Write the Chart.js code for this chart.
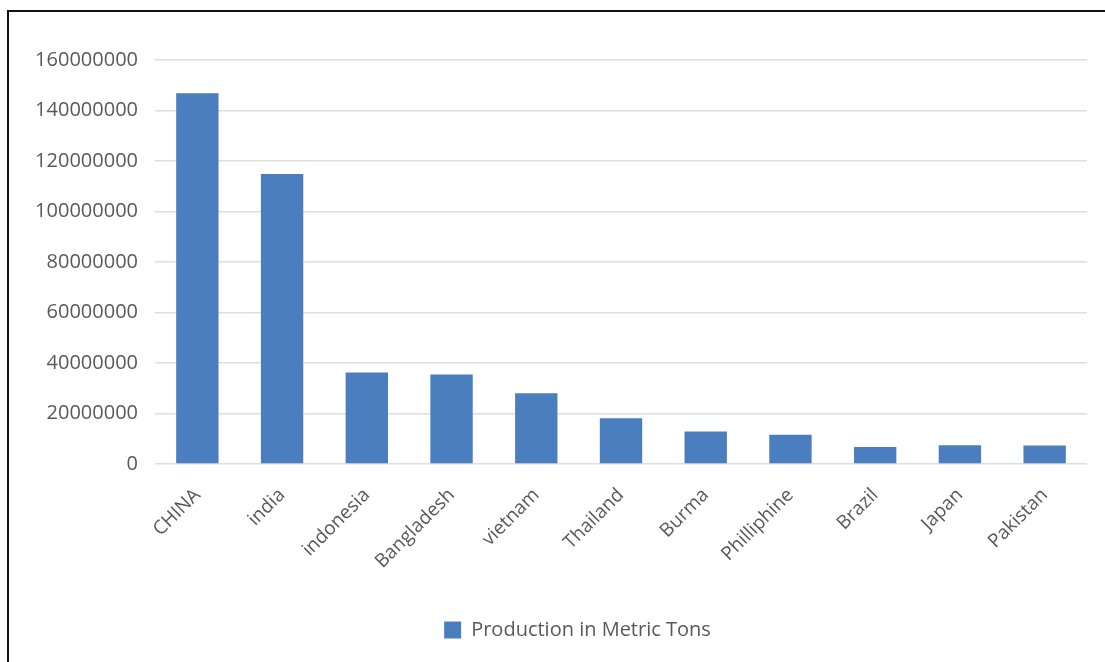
<!DOCTYPE html>
<html>
<head>
<meta charset="utf-8">
<script src="https://cdn.jsdelivr.net/npm/chart.js@4"></script>
<style>
  html, body { margin: 0; padding: 0; background: #fff; overflow: hidden; }
  #frame {
    position: absolute; left: 7px; top: 10px; width: 1300px; height: 900px;
    border: 2px solid #111; box-sizing: border-box;
  }
  #wrap { position: absolute; left: 0; top: 0; width: 1105px; height: 662px; }
</style>
</head>
<body>
<div id="frame"></div>
<div id="wrap"><canvas id="riceChart"></canvas></div>
<script>
const countries = ["CHINA", "india", "indonesia", "Bangladesh", "vietnam", "Thailand",
  "Burma", "Philliphine", "Brazil", "Japan", "Pakistan"];
const production = [146800000, 114900000, 36200000, 35400000, 28000000, 18100000,
  12900000, 11600000, 6700000, 7400000, 7300000];
const seriesLabel = "Production in Metric Tons";

const textColor = "#595959";
const barColor = "#4a7ebf";

// legend sits a bit right of the canvas centre in the original
const legendShift = {
  id: "legendShift",
  afterLayout(chart) {
    if (!chart.legend) return;
    chart.legend.left += 34;
    chart.legend.right += 34;
  },
};

new Chart(document.getElementById("riceChart"), {
  type: "bar",
  data: {
    labels: countries,
    datasets: [
      {
        label: seriesLabel,
        data: production,
        backgroundColor: barColor,
        barPercentage: 0.5,
        categoryPercentage: 1,
      },
    ],
  },
  options: {
    responsive: true,
    maintainAspectRatio: false,
    animation: false,
    layout: { padding: { top: 60, right: 18, bottom: 12, left: 0 } },
    plugins: {
      tooltip: { enabled: false },
      legend: {
        position: "bottom",
        labels: {
          color: textColor,
          font: { family: "Open Sans", size: 20 },
          boxWidth: 17,
          boxHeight: 17,
          padding: 6,
        },
      },
    },
    scales: {
      x: {
        grid: { display: false },
        border: { display: false },
        ticks: {
          color: textColor,
          font: { family: "Open Sans", size: 19 },
          minRotation: 45,
          maxRotation: 45,
          padding: 12,
        },
        afterFit: (scale) => { scale.height = 150; },
      },
      y: {
        min: 0,
        max: 160000000,
        border: { display: false },
        grid: { color: "#dedede", lineWidth: 1.5, drawTicks: false },
        ticks: {
          stepSize: 20000000,
          color: textColor,
          font: { family: "Open Sans", size: 20 },
          padding: 17,
          callback: (v) => String(v),
        },
        afterFit: (scale) => { scale.width = 155; },
      },
    },
  },
  plugins: [legendShift],
});
</script>
</body>
</html>
